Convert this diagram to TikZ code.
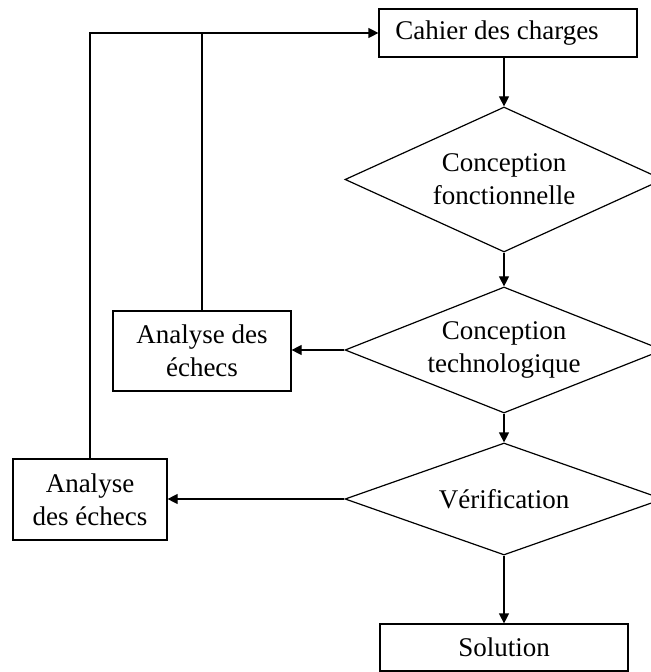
\documentclass[tikz,border=0pt]{standalone}
\usepackage{fontspec}
\setmainfont{Liberation Serif}
\usetikzlibrary{shapes.geometric,arrows.meta}
\begin{document}
\begin{tikzpicture}[x=0.5pt,y=-0.5pt,line width=0.6pt,font=\fontsize{13.5}{16.5}\selectfont,
  boite/.style={rectangle,draw,inner sep=0pt,align=center},
  losange/.style={diamond,draw,inner sep=0pt,aspect=2.5,align=center,minimum width=159pt,minimum height=#1},
  fleche/.style={-{Triangle[length=5pt,width=5pt]}}]
          \useasboundingbox (0,0) rectangle (650,672);
          \node[boite,minimum width=129pt,minimum height=24pt] (Cdc) at (508,33) {Cahier des charges\hspace*{11pt}};
          \node[losange=72.5pt] (Cf) at (504,179.5) {Conception\\fonctionnelle};
          \node[losange=63pt] (Ct) at (504,350) {Conception\\technologique};
          \node[losange=56pt] (Ver) at (504,499) {Vérification};
          \node[boite,minimum width=124pt,minimum height=23.5pt] (Sol) at (504,647.5) {Solution};
          \node[boite,minimum width=89pt,minimum height=40pt] (Ae1) at (202,351) {Analyse des\\échecs};
          \node[boite,minimum width=77pt,minimum height=40.5pt] (Ae2) at (90,499.5) {Analyse\\des échecs};
          \coordinate (haut) at (90,33);
          \draw[fleche] (Cf.north|-Cdc.south)--(Cf.north);
          \draw[fleche] (Cf.south)--(Ct.north);
          \draw[fleche] (Ct.south)--(Ver.north);
          \draw[fleche] (Ver.south)--(Sol.north);
          \draw[fleche] (Ct.west)--(Ct.west-|Ae1.east);
          \draw[fleche] (Ver.west)--(Ver.west-|Ae2.east);
          \draw[fleche] (Ae2.north)--(haut)--(Cdc.west);
          \draw (Ae1.north)--(Ae1.north|-haut);
\end{tikzpicture}
\end{document}
